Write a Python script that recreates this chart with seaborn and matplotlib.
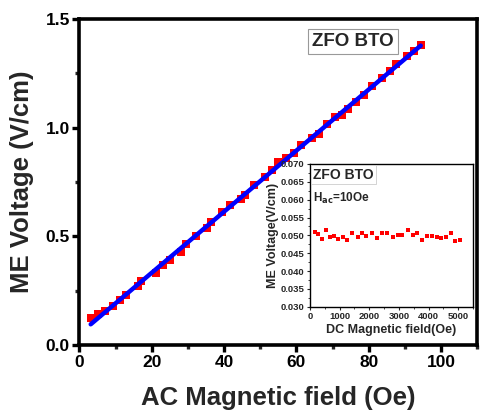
import matplotlib
matplotlib.use("Agg")
import matplotlib.pyplot as plt
from matplotlib.ticker import MultipleLocator, FormatStrFormatter
import pandas as pd
import seaborn as sns

# ME voltage vs AC field (main panel)
ac_field = [3.1, 5.2, 7.0, 9.3, 11.2, 13.0, 16.2, 17.1, 21.2, 23.1, 25.1, 28.2, 29.4,
            32.2, 35.4, 36.3, 39.5, 41.5, 44.7, 45.7, 48.4, 51.4, 53.2, 55.0, 57.0,
            59.4, 61.4, 64.3, 66.3, 68.6, 70.8, 72.5, 74.4, 76.5, 78.8, 80.9, 83.6,
            85.8, 87.5, 90.7, 92.5, 94.4]
me_voltage = [0.122, 0.143, 0.156, 0.178, 0.205, 0.229, 0.271, 0.296, 0.332, 0.367,
              0.393, 0.430, 0.467, 0.500, 0.540, 0.566, 0.612, 0.642, 0.673, 0.692,
              0.738, 0.772, 0.805, 0.843, 0.860, 0.882, 0.921, 0.951, 0.972, 1.017,
              1.050, 1.060, 1.086, 1.116, 1.151, 1.193, 1.228, 1.261, 1.292, 1.330,
              1.352, 1.379]

# ME voltage vs DC bias field at H_ac = 10 Oe (inset)
dc_field = [168, 280, 414, 526, 671, 805, 950, 1118, 1253, 1421, 1611, 1756, 1902,
            2091, 2259, 2427, 2595, 2796, 2953, 3121, 3300, 3467, 3624, 3792, 3937,
            4104, 4272, 4419, 4587, 4742, 4889, 5057]
dc_voltage = [0.0510, 0.0503, 0.0489, 0.0515, 0.0495, 0.0498, 0.0489, 0.0495, 0.0487,
              0.0506, 0.0495, 0.0507, 0.0498, 0.0507, 0.0492, 0.0506, 0.0506, 0.0495,
              0.0501, 0.0501, 0.0515, 0.0501, 0.0506, 0.0487, 0.0498, 0.0498, 0.0495,
              0.0492, 0.0496, 0.0506, 0.0485, 0.0487]

main_df = pd.DataFrame({"field": ac_field, "voltage": me_voltage})
inset_df = pd.DataFrame({"field": dc_field, "voltage": dc_voltage})

sns.set_style("ticks")
plt.rcParams["font.family"] = ["Liberation Sans", "DejaVu Sans"]
plt.rcParams["font.weight"] = "bold"

fig = plt.figure(figsize=(4.8, 4.19), dpi=100)
ax = fig.add_axes([0.1656, 0.1766, 0.8284, 0.7781])

# measured points with a linear fit through them
sns.regplot(data=main_df, x="field", y="voltage", ax=ax, ci=None,
            marker="s",
            scatter_kws={"s": 30, "color": "#ff0000", "linewidths": 0, "alpha": 1},
            line_kws={"color": "#0000ff", "lw": 3.2})

ax.set_xlim(0, 110)
ax.set_ylim(0, 1.5)
ax.set_xticks([0, 20, 40, 60, 80, 100])
ax.xaxis.set_minor_locator(MultipleLocator(10))
ax.yaxis.set_major_locator(MultipleLocator(0.5))
ax.yaxis.set_minor_locator(MultipleLocator(0.25))
ax.yaxis.set_major_formatter(FormatStrFormatter("%.1f"))
for s in ax.spines.values():
    s.set_linewidth(2.6)
    s.set_color("black")
ax.tick_params(which="major", direction="out", length=5, width=2.4,
               labelsize=12.5, pad=2, colors="black")
ax.tick_params(which="minor", direction="out", length=3, width=2.4)
for lab in ax.get_xticklabels() + ax.get_yticklabels():
    lab.set_fontweight("bold")
ax.set_xlabel("AC Magnetic field (Oe)", fontsize=18.5, fontweight="bold", labelpad=12)
ax.set_ylabel("ME Voltage (V/cm)", fontsize=18.5, fontweight="bold", labelpad=8)

ax.text(0.688, 0.957, "ZFO BTO", transform=ax.transAxes, ha="center", va="top",
        fontsize=13.5, fontweight="bold",
        bbox=dict(boxstyle="square,pad=0.2", fc="white", ec="#999999", lw=0.8))

# inset: DC bias dependence
ins = fig.add_axes([0.6458, 0.268, 0.3396, 0.3406])
sns.scatterplot(data=inset_df, x="field", y="voltage", ax=ins, marker="s",
                s=7, color="#ff0000", linewidth=0)
ins.set_xlim(0, 5500)
ins.set_ylim(0.030, 0.070)
ins.xaxis.set_major_locator(MultipleLocator(1000))
ins.xaxis.set_minor_locator(MultipleLocator(500))
ins.yaxis.set_major_locator(MultipleLocator(0.005))
ins.yaxis.set_minor_locator(MultipleLocator(0.0025))
ins.yaxis.set_major_formatter(FormatStrFormatter("%.3f"))
for s in ins.spines.values():
    s.set_linewidth(1.0)
    s.set_color("black")
ins.tick_params(which="major", direction="out", length=2.5, width=0.8,
                labelsize=6.8, pad=1.5)
ins.tick_params(which="minor", direction="out", length=1.5, width=0.6)
for lab in ins.get_xticklabels() + ins.get_yticklabels():
    lab.set_fontweight("bold")
ins.set_xlabel("DC Magnetic field(Oe)", fontsize=9, fontweight="bold", labelpad=2)
ins.set_ylabel("ME Voltage(V/cm)", fontsize=9, fontweight="bold", labelpad=1)

ins.text(0.02, 0.975, "ZFO BTO", transform=ins.transAxes, ha="left", va="top",
         fontsize=10, fontweight="bold",
         bbox=dict(boxstyle="square,pad=0.15", fc="white", ec="#cccccc", lw=0.6))
ins.text(0.02, 0.81, r"H$_{\mathbf{ac}}$=10Oe", transform=ins.transAxes,
         ha="left", va="top", fontsize=8.5, fontweight="bold")

fig.savefig("out.png", dpi=100)
